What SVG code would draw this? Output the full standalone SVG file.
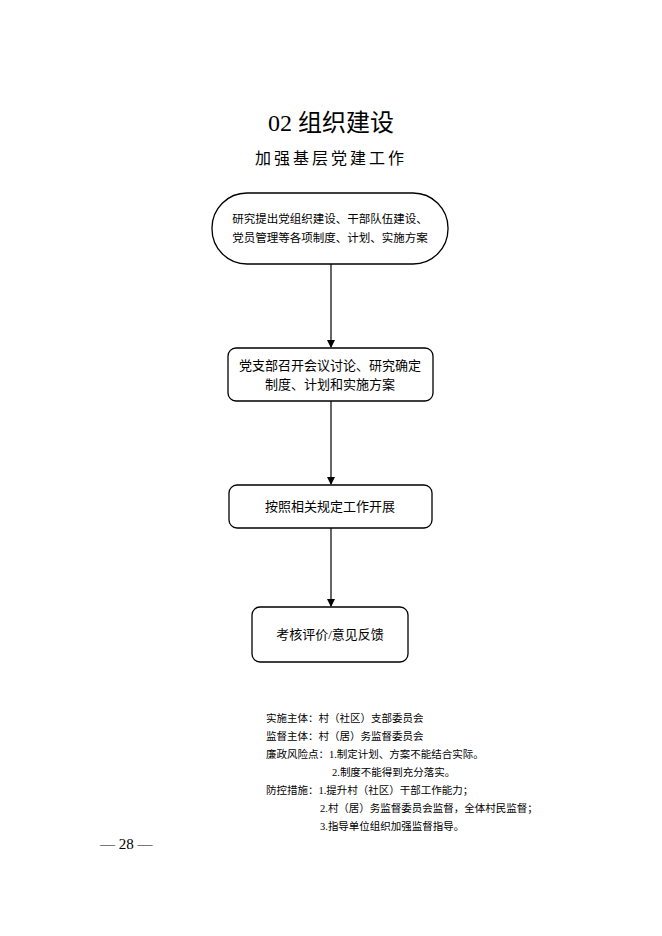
<svg xmlns="http://www.w3.org/2000/svg" width="662" height="936" viewBox="0 0 662 936">
<style>
text{font-family:"Liberation Serif","Noto Sans CJK SC",serif;fill:#000}
.b{fill:#fff;stroke:#000;stroke-width:1.3}
.n{font-size:10.5px}
</style>
<defs><marker id="a" markerWidth="8" markerHeight="8" refX="7" refY="4" orient="auto" markerUnits="userSpaceOnUse"><path d="M0,0 L8,4 L0,8 z" fill="#000"/></marker></defs>
<rect width="662" height="936" fill="#fff"/>
<text x="331" y="131" font-size="24" text-anchor="middle">02 组织建设</text>
<text x="331" y="164" font-size="16" text-anchor="middle" letter-spacing="3">加强基层党建工作</text>
<g id="connectors" stroke="#000" stroke-width="1.2" marker-end="url(#a)">
<line x1="331" y1="264" x2="331" y2="347"/>
<line x1="331" y1="401" x2="331" y2="484"/>
<line x1="331" y1="528" x2="331" y2="606"/>
</g>
<g id="n1"><rect class="b" x="212" y="193" width="236" height="71" rx="35"/>
<text x="330" y="223" font-size="11.5" text-anchor="middle">研究提出党组织建设、干部队伍建设、</text>
<text x="330" y="242" font-size="11.5" text-anchor="middle">党员管理等各项制度、计划、实施方案</text></g>
<g id="n2"><rect class="b" x="228" y="348" width="205" height="53" rx="8"/>
<text x="330" y="370" font-size="13" text-anchor="middle">党支部召开会议讨论、研究确定</text>
<text x="330" y="389" font-size="13" text-anchor="middle">制度、计划和实施方案</text></g>
<g id="n3"><rect class="b" x="229" y="485" width="203" height="43" rx="8"/>
<text x="330" y="511" font-size="13" text-anchor="middle">按照相关规定工作开展</text></g>
<g id="n4"><rect class="b" x="252" y="607" width="156" height="55" rx="8"/>
<text x="330" y="639" font-size="13" text-anchor="middle">考核评价/意见反馈</text></g>
<g id="notes" class="n">
<text x="266" y="722" class="n">实施主体：村（社区）支部委员会</text>
<text x="266" y="740" class="n">监督主体：村（居）务监督委员会</text>
<text x="266" y="758" class="n">廉政风险点：1.制定计划、方案不能结合实际。</text>
<text x="332" y="776" class="n">2.制度不能得到充分落实。</text>
<text x="266" y="794" class="n">防控措施：1.提升村（社区）干部工作能力；</text>
<text x="320" y="812" class="n">2.村（居）务监督委员会监督，全体村民监督；</text>
<text x="320" y="830" class="n">3.指导单位组织加强监督指导。</text>
</g>
<text x="100" y="849" font-size="15" font-family="Liberation Sans,sans-serif">— 28 —</text>
</svg>
